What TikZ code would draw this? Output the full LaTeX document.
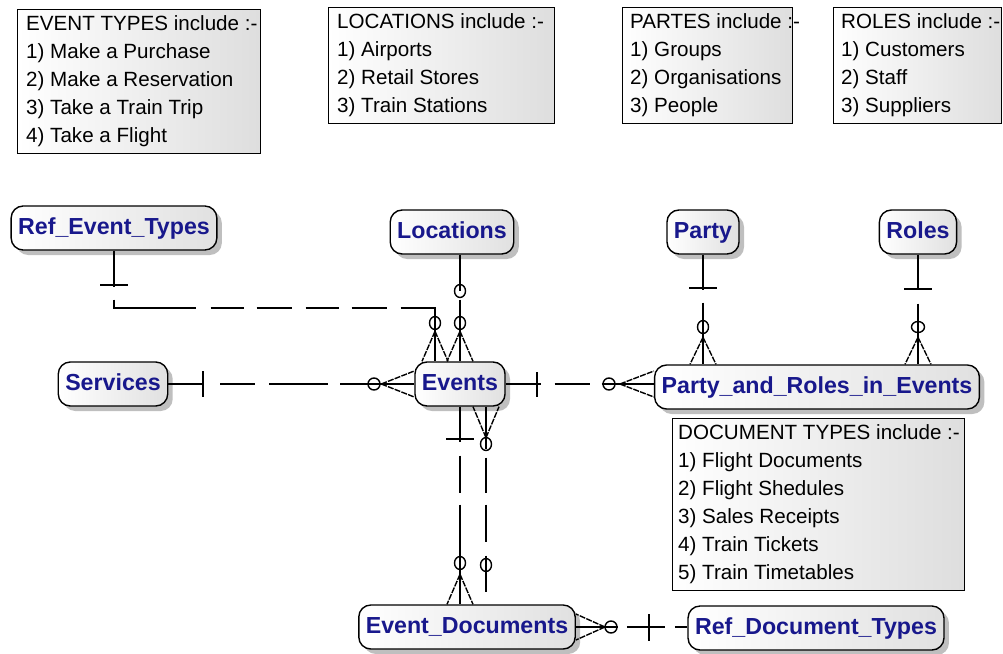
\documentclass[tikz,border=0pt]{standalone}
\usepackage{fontspec}
\setmainfont{Liberation Sans}
\usetikzlibrary{shadows,calc}
\definecolor{entblue}{RGB}{24,24,140}
\begin{document}
\begin{tikzpicture}[x=1pt,y=-1pt,
  ent/.style={draw=black, line width=1.4pt, rounded corners=12pt,
    left color=white, right color=black!12,
    drop shadow={shadow xshift=5pt, shadow yshift=-5pt, opacity=0.25, fill=black},
    font=\fontsize{23.2}{28}\selectfont\bfseries, text=entblue,
    inner xsep=7pt, inner ysep=0pt, minimum height=44pt,
    text height=17pt, text depth=5pt},
  notebox/.style={draw=black, line width=1.2pt, left color=white, right color=black!13,
    anchor=north west, inner sep=0pt},
  notetext/.style={font=\fontsize{20.6}{28}\selectfont, align=left, anchor=west, inner sep=0pt},
  rel/.style={line width=1.5pt},
  bar/.style={line width=1.5pt},
  ring/.style={line width=1.4pt},
  crowline/.style={line width=1.4pt, dash pattern=on 6pt off 1.2pt},
  pics/crow/.style={code={
    \draw[crowline] (0,-#1) -- (-13,0) (0,-#1) -- (13,0);
    \draw[line width=1.4pt] (0,-#1) -- (0,0);
  }},
  pics/crow/.default=30
]
\path[fill=white] (0,0) rectangle (1003,653);
\useasboundingbox (0,0) rectangle (1003,653);

% ---------- notes ----------
\node[notebox, minimum width=243pt, minimum height=144pt] (n1) at (17,9) {};
\node[notetext] (n1t) at ($(n1.west)+(9,0)$) {EVENT TYPES include :-\\1) Make a Purchase\\2) Make a Reservation\\3) Take a Train Trip\\4) Take a Flight};
\node[notebox, minimum width=226pt, minimum height=116pt] (n2) at (328,7) {};
\node[notetext] (n2t) at ($(n2.west)+(9,0)$) {LOCATIONS include :-\\1) Airports\\2) Retail Stores\\3) Train Stations};
\node[notebox, minimum width=170pt, minimum height=116pt] (n3) at (622,7) {};
\node[notetext] (n3t) at ($(n3.west)+(8,0)$) {PARTES include :-\\1) Groups\\2) Organisations\\3) People};
\node[notebox, minimum width=168pt, minimum height=116pt] (n4) at (833,7) {};
\node[notetext] (n4t) at ($(n4.west)+(8,0)$) {ROLES include :-\\1) Customers\\2) Staff\\3) Suppliers};
\node[notebox, minimum width=292pt, minimum height=172pt] (n5) at (672,418) {};
\node[notetext] (n5t) at ($(n5.west)+(6,0)$) {DOCUMENT TYPES include :-\\1) Flight Documents\\2) Flight Shedules\\3) Sales Receipts\\4) Train Tickets\\5) Train Timetables};

% ---------- entities ----------
\node[ent] (RET) at (114,228) {Ref\_Event\_Types};
\node[ent] (LOC) at (452,232) {Locations};
\node[ent] (PAR) at (703,232) {Party};
\node[ent] (ROL) at (918,232) {Roles};
\node[ent] (SER) at (113,384) {Services};
\node[ent] (EVT) at (460,384) {Events};
\node[ent] (PRE) at (817,387) {Party\_and\_Roles\_in\_Events};
\node[ent] (EDO) at (467,627) {Event\_Documents};
\node[ent] (RDT) at (816,628) {Ref\_Document\_Types};

% ---------- connectors ----------
\coordinate (r1c) at (435,308);
\coordinate (r8s) at ($(EVT.south)+(26,0)$);
\coordinate (r8e) at (486,592);

% Ref_Event_Types -> Events
\draw[rel, dash pattern=on 36pt off 13pt on 90pt off 15pt on 33pt off 13pt on 35pt off 14pt on 33pt off 13pt on 35pt off 14pt on 200pt]
  (RET.south) |- (r1c) -- (r1c |- EVT.north);
\draw[bar] (100,285) -- (128,285);
\draw[ring] (435,323) ellipse[x radius=5.5, y radius=6.5];
\pic at (r1c |- EVT.north) {crow=30};

% Locations -> Events
\draw[rel, dash pattern=on 36pt off 9pt on 100pt] (EVT.north |- LOC.south) -- (EVT.north);
\draw[ring] (460,291) ellipse[x radius=5.5, y radius=6.5];
\draw[ring] (460,323) ellipse[x radius=5.5, y radius=6.5];
\pic at (EVT.north) {crow=30};

% Services -> Events
\draw[rel, dash pattern=on 35pt off 17pt on 35pt off 14pt on 59pt off 12pt on 100pt] (SER.east) -- (SER.east -| EVT.west);
\draw[bar] (203,371) -- (203,397);
\draw[ring] (374,384) ellipse[x radius=6, y radius=6];
\pic[rotate=90] at (SER.east -| EVT.west) {crow=33};

% Events -> Party_and_Roles_in_Events
\draw[rel, dash pattern=on 35pt off 14pt on 35pt off 12pt on 60pt] (EVT.east) -- (EVT.east -| PRE.west);
\draw[bar] (537,372) -- (537,397);
\draw[ring] (609,384) ellipse[x radius=6, y radius=6];
\pic[rotate=90] at (EVT.east -| PRE.west) {crow=34};

% Party -> Party_and_Roles_in_Events
\draw[rel, dash pattern=on 35pt off 13pt on 80pt] (PAR.south) -- (PAR.south |- PRE.north);
\draw[bar] (689,288) -- (717,288);
\draw[ring] (703,327) ellipse[x radius=5.5, y radius=6.5];
\pic at (PAR.south |- PRE.north) {crow=27};

% Roles -> Party_and_Roles_in_Events
\draw[rel, dash pattern=on 35pt off 14pt on 80pt] (ROL.south) -- (ROL.south |- PRE.north);
\draw[bar] (904,289) -- (932,289);
\draw[ring] (918,327) ellipse[x radius=6.5, y radius=5.5];
\pic at (ROL.south |- PRE.north) {crow=27};

% Events -> Event_Documents
\draw[rel, dash pattern=on 35pt off 14pt on 37pt off 12pt on 120pt] (EVT.south) -- (EVT.south |- EDO.north);
\draw[bar] (446,439) -- (474,439);
\draw[ring] (460,563) ellipse[x radius=5.5, y radius=6.5];
\pic at (EVT.south |- EDO.north) {crow=30};

% Event_Documents -> Events (second link)
\draw[rel, dash pattern=on 42pt off 9pt on 35pt off 12pt on 37pt off 14pt on 40pt] (r8s) -- (r8e);
\draw[ring] (486,444) ellipse[x radius=5.5, y radius=6.5];
\draw[ring] (486,565) ellipse[x radius=5.5, y radius=6.5];
\pic[rotate=180] at (r8s) {crow=31};

% Event_Documents -> Ref_Document_Types
\draw[rel, dash pattern=on 42pt off 9pt on 38pt off 10pt on 20pt] (EDO.east) -- (EDO.east -| RDT.west);
\draw[bar] (649,614) -- (649,641);
\draw[ring] (611,627) ellipse[x radius=6, y radius=6];
\pic[rotate=-90] at (EDO.east) {crow=29};
\end{tikzpicture}
\end{document}
